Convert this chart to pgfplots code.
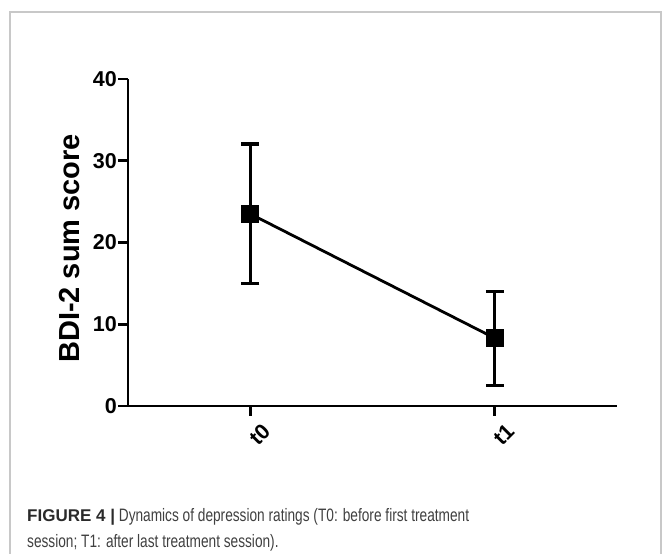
\documentclass[border=0pt]{standalone}
\usepackage{pgfplots}
\pgfplotsset{compat=1.18}
\usepackage{fontspec}
\setmainfont{Liberation Sans}
\newfontfamily\capfont[FakeStretch=0.76]{Liberation Sans}
\newfontfamily\capbold{Liberation Sans Bold}
\definecolor{framegray}{HTML}{C8C8C8}
\definecolor{captext}{HTML}{404040}
\definecolor{capbold}{HTML}{2A2A2A}
\begin{document}
\begin{tikzpicture}[x=1pt,y=1pt]
\useasboundingbox (0,0) rectangle (664,554);
\draw[framegray, line width=2pt] (10,0) -- (10,542) -- (661,542) -- (661,0);
\begin{axis}[
  at={(128pt,148pt)}, anchor=south west,
  scale only axis, width=489pt, height=327pt,
  xmin=-0.5, xmax=1.5, ymin=0, ymax=40,
  axis x line*=bottom, axis y line*=left,
  axis line style={line width=2.6pt, -},
  xtick={0,1}, xticklabels={t0,t1},
  ytick={0,10,20,30,40},
  tick align=outside, major tick length=10pt,
  every tick/.style={black, line width=2.6pt},
  /pgf/number format/assume math mode=true,
  tick label style={font=\fontsize{21.5}{21.5}\selectfont\bfseries},
  xticklabel style={rotate=45, anchor=east, inner sep=1pt, yshift=-20pt, xshift=4pt},
  yticklabel style={inner sep=1pt},
  ylabel={BDI-2 sum score},
  every axis y label/.style={at={(axis description cs:-0.1186,0.482)}, rotate=90, anchor=center, font=\fontsize{29}{29}\selectfont\bfseries},
  clip=false,
]
\addplot[black, line width=2.8pt, mark=square*, mark size=7.5pt,
  error bars/.cd, y dir=both, y explicit,
  error bar style={line width=3.2pt, black},
  error mark options={rotate=90, mark size=9pt, line width=3.2pt, black}]
  coordinates {
    (0,23.5) +- (0,8.55)
    (1,8.3) +- (0,5.75)
  };
\end{axis}
\node[anchor=base west, inner sep=0pt, text=captext, font=\capfont\fontsize{18}{18}\selectfont] at (27,32)
  {{\capbold\color{capbold}\fontsize{17}{17}\selectfont FIGURE 4 |} Dynamics of depression ratings (T0: before first treatment};
\node[anchor=base west, inner sep=0pt, text=captext, font=\capfont\fontsize{18}{18}\selectfont] at (27,6)
  {session; T1: after last treatment session).};
\end{tikzpicture}
\end{document}
